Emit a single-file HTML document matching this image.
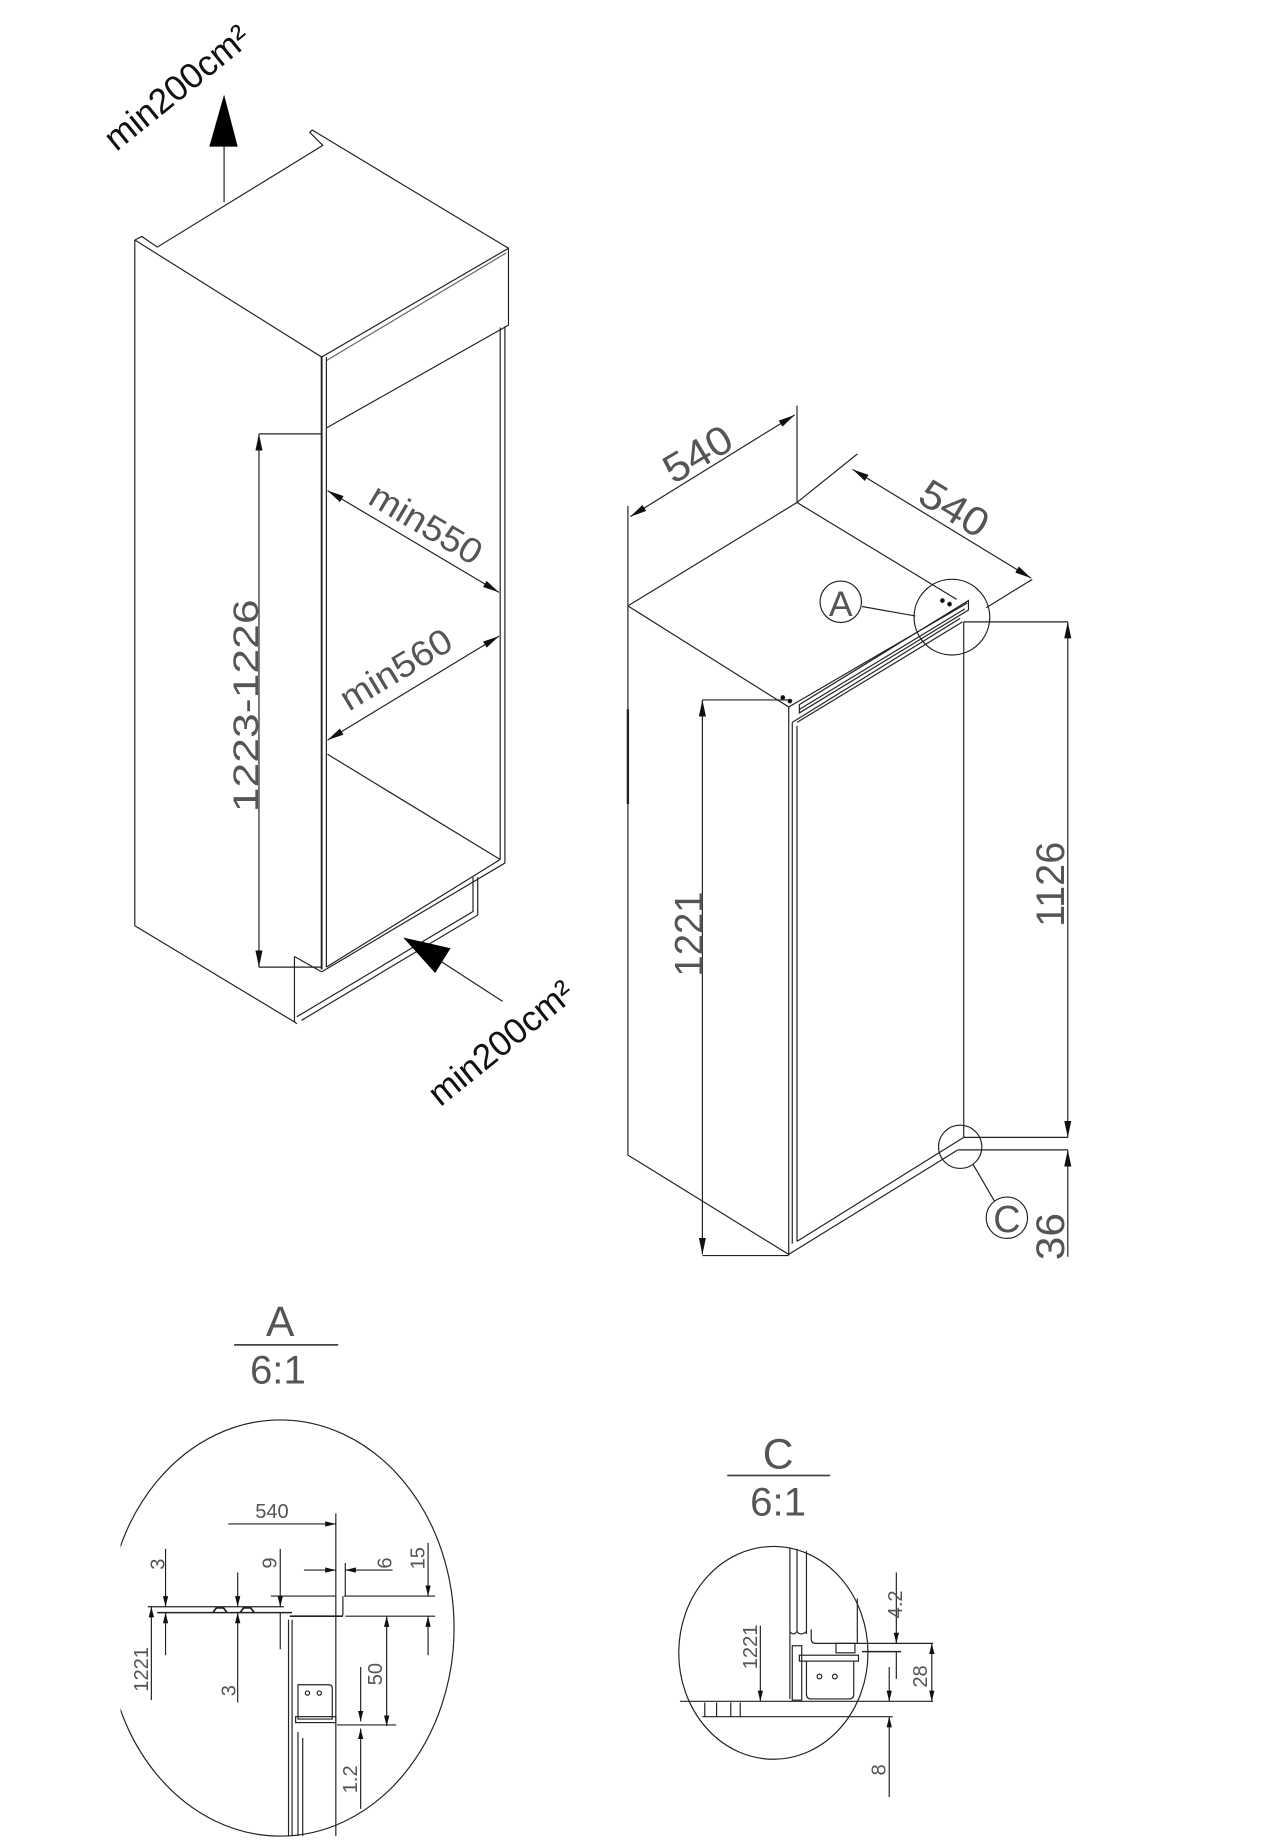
<!DOCTYPE html>
<html><head><meta charset="utf-8"><style>
html,body{margin:0;padding:0;background:#fff;}
svg{display:block;}
text{font-family:"Liberation Sans",sans-serif;fill:#555;}
.k{fill:#111;}
</style></head><body>
<svg width="1283" height="1842" viewBox="0 0 1085 1558" preserveAspectRatio="none" xmlns="http://www.w3.org/2000/svg">
<defs>
<marker id="ar" viewBox="0 0 14 6" refX="14" refY="3" markerWidth="14" markerHeight="6" markerUnits="userSpaceOnUse" orient="auto-start-reverse"><path d="M0,0 L14,3 L0,6 Z" fill="#111"/></marker>
<marker id="as" viewBox="0 0 10 5" refX="10" refY="2.5" markerWidth="9" markerHeight="4.5" markerUnits="userSpaceOnUse" orient="auto-start-reverse"><path d="M0,0 L10,2.5 L0,5 Z" fill="#111"/></marker>
</defs>
<g fill="none" stroke="#222" stroke-width="1">
<!-- LEFT CABINET -->
<path d="M114,203 L120,200 L133,209 L273,123 L262,112 L264,110 L430,210"/>
<path d="M114,203 L272,302 L430,210 L430,275 L276,362"/>
<path d="M276,305 L428,214" stroke="#666"/>
<line x1="114" y1="203" x2="114" y2="783"/>
<line x1="114" y1="783" x2="250" y2="865"/>
<line x1="272" y1="302" x2="272" y2="820" stroke-width="1.6"/>
<line x1="276" y1="302" x2="276" y2="818"/>
<line x1="423" y1="277" x2="423" y2="727"/>
<line x1="427" y1="276" x2="427" y2="730"/>
<line x1="277" y1="638" x2="423" y2="727"/>
<path d="M272,822 L427,730"/><path d="M276,818 L423,727"/>
<path d="M400,742 L400,771 L251,860"/><path d="M404,742 L404,774 L255,863"/>
<path d="M249,809 L249,864 L251,866"/><path d="M249,809 L272,822"/>
<!-- up arrow -->
<line x1="189.5" y1="171" x2="189.5" y2="122"/>
<path d="M189.5,80 L201,124 L177,124 Z" fill="#000" stroke="none"/>
<!-- bottom arrow -->
<line x1="368" y1="810" x2="425" y2="847"/>
<path d="M341,793 L381,802 L368,823 Z" fill="#000" stroke="none"/>
<!-- dim 1223 -->
<line x1="219" y1="367" x2="219" y2="818" marker-start="url(#ar)" marker-end="url(#ar)"/>
<line x1="219" y1="367" x2="272" y2="367"/>
<line x1="219" y1="818" x2="272" y2="818"/>
<line x1="277" y1="415" x2="422" y2="501" marker-start="url(#ar)" marker-end="url(#ar)"/>
<line x1="277" y1="626" x2="422" y2="538" marker-start="url(#ar)" marker-end="url(#ar)"/>

<!-- RIGHT FRIDGE -->
<line x1="531" y1="428" x2="531" y2="977"/>
<line x1="531" y1="600" x2="531" y2="680" stroke-width="2"/>
<path d="M531,512.5 L674,425 L809,507"/>
<line x1="674" y1="343" x2="674" y2="425"/>
<line x1="674" y1="425" x2="725" y2="384"/>
<line x1="834" y1="514" x2="873" y2="490"/>
<line x1="533" y1="437" x2="672" y2="351" marker-start="url(#ar)" marker-end="url(#ar)"/>
<line x1="721" y1="397" x2="872" y2="489" marker-start="url(#ar)" marker-end="url(#ar)"/>
<path d="M531,512.5 L667,598 L667,1061 L531,977"/>
<path d="M667,598 L818,510"/>
<path d="M676,596 L676,603 L819,516 L819,508 Z"/>
<path d="M676,600 L816,515"/>
<path d="M670,611 L812,523"/><path d="M674,611 L814,526"/>
<line x1="670" y1="611" x2="670" y2="1052"/><line x1="674" y1="614" x2="674" y2="1050"/>
<line x1="815" y1="526" x2="815" y2="962"/>
<path d="M815,962 L674,1050"/><path d="M810,972.6 L667,1061"/>
<line x1="815" y1="962" x2="903" y2="962"/>
<line x1="810" y1="972.6" x2="903" y2="972.6"/>
<line x1="815" y1="526" x2="903" y2="526"/>
<line x1="903" y1="526" x2="903" y2="962" marker-start="url(#ar)" marker-end="url(#ar)"/>
<line x1="903" y1="1063" x2="903" y2="972.6" marker-end="url(#ar)"/>
<line x1="594" y1="592" x2="594" y2="1061" marker-start="url(#ar)" marker-end="url(#ar)"/>
<line x1="594" y1="592" x2="667" y2="592"/>
<line x1="594" y1="1062" x2="667" y2="1062"/>
<circle cx="805" cy="522" r="32"/>
<circle cx="711" cy="509" r="17.5"/>
<line x1="729" y1="513" x2="774" y2="521"/>
<circle cx="812" cy="970" r="18.3"/>
<circle cx="851.5" cy="1030" r="17.5"/>
<line x1="823" y1="985" x2="841" y2="1016"/>
<circle cx="662" cy="590" r="1.5" fill="#000"/><circle cx="668" cy="593" r="1.5" fill="#000"/>
<circle cx="797" cy="508" r="1.5" fill="#000"/><circle cx="803" cy="511" r="1.5" fill="#000"/>

<!-- SECTION A -->
<line x1="198" y1="1137.5" x2="286" y2="1137.5" stroke="#444" stroke-width="1.5"/>
<ellipse cx="237" cy="1377" rx="147" ry="176"/>
<rect x="80" y="1295" width="22" height="170" fill="#fff" stroke="none"/>
<line x1="193" y1="1289" x2="284" y2="1289" marker-end="url(#as)"/>
<line x1="284" y1="1280" x2="284" y2="1553"/>
<line x1="229" y1="1350" x2="284" y2="1350"/><line x1="291" y1="1350" x2="368" y2="1350"/>
<line x1="245" y1="1367" x2="290" y2="1367" stroke-width="1.4"/><line x1="292" y1="1367" x2="368" y2="1367"/>
<path d="M290,1350 L290,1365 Q290,1367 288,1367"/>
<line x1="125" y1="1359" x2="240" y2="1359"/>
<line x1="133" y1="1364" x2="247" y2="1364" stroke-width="1.3"/>
<path d="M180,1364 l3,-4 h6 l3,4 M203,1364 l3,-4 h6 l3,4" stroke-width="1.5"/>
<line x1="140" y1="1310" x2="140" y2="1359" marker-end="url(#as)"/><line x1="140" y1="1400" x2="140" y2="1364" marker-end="url(#as)"/>
<line x1="201" y1="1330" x2="201" y2="1359" marker-end="url(#as)"/><line x1="201" y1="1440" x2="201" y2="1364" marker-end="url(#as)"/>
<line x1="128" y1="1438" x2="128" y2="1359" marker-end="url(#as)"/>
<line x1="237" y1="1310" x2="237" y2="1359" marker-end="url(#as)"/><line x1="237" y1="1364" x2="237" y2="1395"/>
<line x1="257" y1="1328" x2="284" y2="1328" marker-end="url(#as)"/><line x1="332" y1="1328" x2="292" y2="1328" marker-end="url(#as)"/>
<line x1="292" y1="1322" x2="292" y2="1350"/>
<line x1="362" y1="1305" x2="362" y2="1350" marker-end="url(#as)"/><line x1="362" y1="1400" x2="362" y2="1367" marker-end="url(#as)"/>
<line x1="327" y1="1460" x2="327" y2="1367" marker-end="url(#as)" marker-start="url(#as)"/>
<line x1="305" y1="1410" x2="305" y2="1456" marker-end="url(#as)"/><line x1="305" y1="1530" x2="305" y2="1462" marker-end="url(#as)"/>
<line x1="285" y1="1459" x2="335" y2="1459"/>
<line x1="244" y1="1370" x2="244" y2="1553"/><line x1="247" y1="1370" x2="247" y2="1553"/>
<line x1="252" y1="1465" x2="252" y2="1553"/><line x1="256" y1="1470" x2="256" y2="1553"/>
<path d="M252,1425 h26 q3,0 3,3 v26 h-29 z"/>
<circle cx="260" cy="1432" r="1.8"/><circle cx="270" cy="1432" r="1.8"/>
<rect x="250" y="1452" width="34" height="5"/>

<!-- SECTION C -->
<line x1="615" y1="1248" x2="702" y2="1248" stroke="#444" stroke-width="1.5"/>
<ellipse cx="654" cy="1398" rx="80" ry="90"/>
<line x1="668" y1="1309" x2="668" y2="1437"/><line x1="674" y1="1310" x2="674" y2="1380"/><line x1="682" y1="1312" x2="682" y2="1382"/>
<path d="M668,1380 q3,4 6,0 q3,4 8,0"/>
<path d="M686,1378 L686,1386 q0,4 4,4 h35 v-38"/>
<line x1="725" y1="1390" x2="789" y2="1390"/>
<line x1="729" y1="1397" x2="762" y2="1397" stroke-width="1.3"/>
<rect x="676" y="1400" width="50" height="5"/>
<rect x="670" y="1392" width="8" height="46"/>
<path d="M682,1405 v28 q0,4 4,4 h32 q4,0 4,-4 v-28"/>
<circle cx="693" cy="1418" r="2"/><circle cx="706" cy="1418" r="2"/>
<rect x="707" y="1390" width="16" height="8"/>
<line x1="575" y1="1439" x2="789" y2="1439"/>
<line x1="594" y1="1452" x2="755" y2="1452"/>
<path d="M596,1440 v12 M606,1440 v12 M618,1440 v12 M626,1440 v12"/>
<line x1="758" y1="1330" x2="758" y2="1390" marker-end="url(#as)"/><line x1="758" y1="1420" x2="758" y2="1397"/>
<line x1="788" y1="1390" x2="788" y2="1439" marker-start="url(#as)" marker-end="url(#as)"/>
<line x1="643" y1="1375" x2="643" y2="1439" marker-end="url(#as)"/>
<line x1="752" y1="1410" x2="752" y2="1439" marker-end="url(#as)"/><line x1="752" y1="1520" x2="752" y2="1452" marker-end="url(#as)"/>
</g>

<!-- TEXT -->
<text x="0" y="0" font-size="30" class="k" transform="translate(156,82) rotate(-39)" text-anchor="middle">min200cm²</text>
<text x="0" y="0" font-size="30" class="k" transform="translate(430,890) rotate(-39)" text-anchor="middle">min200cm²</text>
<text x="0" y="0" font-size="30" transform="translate(218,597) rotate(-90)" text-anchor="middle" textLength="180" lengthAdjust="spacingAndGlyphs">1223-1226</text>
<text x="0" y="0" font-size="30" transform="translate(355,452) rotate(30.6)" text-anchor="middle" textLength="105" lengthAdjust="spacingAndGlyphs">min550</text>
<text x="0" y="0" font-size="30" transform="translate(340,575) rotate(-31)" text-anchor="middle" textLength="105" lengthAdjust="spacingAndGlyphs">min560</text>
<text x="0" y="0" font-size="34" transform="translate(596,394) rotate(-31)" text-anchor="middle" textLength="62" lengthAdjust="spacingAndGlyphs">540</text>
<text x="0" y="0" font-size="34" transform="translate(801,440) rotate(31)" text-anchor="middle" textLength="62" lengthAdjust="spacingAndGlyphs">540</text>
<text x="0" y="0" font-size="34" transform="translate(594,790) rotate(-90)" text-anchor="middle" textLength="72" lengthAdjust="spacingAndGlyphs">1221</text>
<text x="0" y="0" font-size="34" transform="translate(900,748) rotate(-90)" text-anchor="middle" textLength="72" lengthAdjust="spacingAndGlyphs">1126</text>
<text x="0" y="0" font-size="34" transform="translate(900,1046) rotate(-90)" text-anchor="middle" textLength="40" lengthAdjust="spacingAndGlyphs">36</text>
<text x="711" y="521" font-size="30" text-anchor="middle">A</text>
<text x="851.5" y="1042" font-size="32" text-anchor="middle">C</text>

<text x="237" y="1130" font-size="36" text-anchor="middle">A</text>
<text x="235" y="1170" font-size="34" text-anchor="middle">6:1</text>
<text x="658" y="1242" font-size="36" text-anchor="middle">C</text>
<text x="658" y="1282" font-size="34" text-anchor="middle">6:1</text>

<text x="230" y="1284" font-size="17" text-anchor="middle">540</text>
<text x="0" y="0" font-size="17" transform="translate(139,1323) rotate(-90)" text-anchor="middle">3</text>
<text x="0" y="0" font-size="17" transform="translate(234,1322) rotate(-90)" text-anchor="middle">9</text>
<text x="0" y="0" font-size="17" transform="translate(331,1322) rotate(-90)" text-anchor="middle">6</text>
<text x="0" y="0" font-size="17" transform="translate(359,1318) rotate(-90)" text-anchor="middle">15</text>
<text x="0" y="0" font-size="17" transform="translate(125,1412) rotate(-90)" text-anchor="middle">1221</text>
<text x="0" y="0" font-size="17" transform="translate(199,1430) rotate(-90)" text-anchor="middle">3</text>
<text x="0" y="0" font-size="17" transform="translate(323,1416) rotate(-90)" text-anchor="middle">50</text>
<text x="0" y="0" font-size="17" transform="translate(302,1505) rotate(-90)" text-anchor="middle">1.2</text>
<text x="0" y="0" font-size="17" transform="translate(640,1393) rotate(-90)" text-anchor="middle">1221</text>
<text x="0" y="0" font-size="17" transform="translate(763,1357) rotate(-90)" text-anchor="middle">4.2</text>
<text x="0" y="0" font-size="17" transform="translate(784,1418) rotate(-90)" text-anchor="middle">28</text>
<text x="0" y="0" font-size="17" transform="translate(749,1497) rotate(-90)" text-anchor="middle">8</text>
</svg>
</body></html>
